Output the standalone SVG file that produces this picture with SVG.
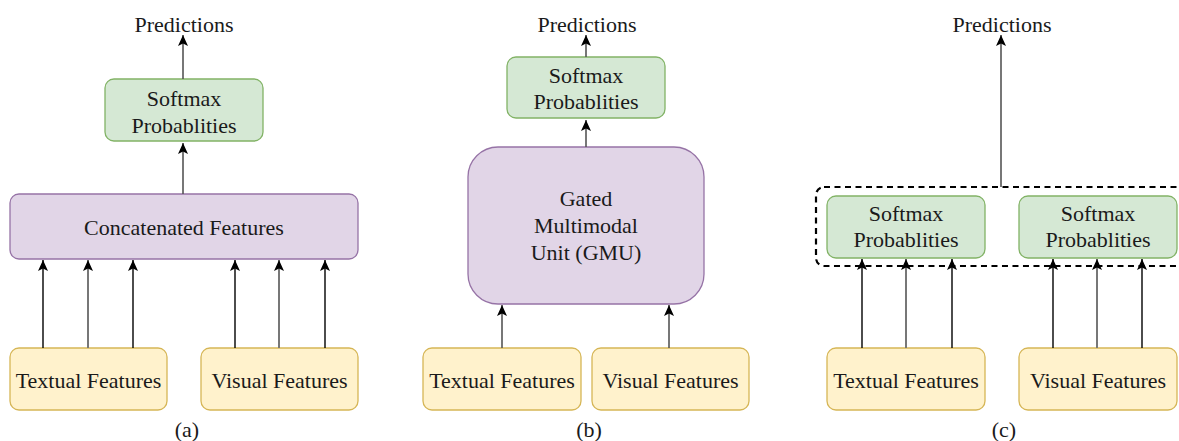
<svg xmlns="http://www.w3.org/2000/svg" width="1179" height="441" viewBox="0 0 1179 441">
<defs>
<marker id="ah" markerUnits="userSpaceOnUse" markerWidth="12" markerHeight="12" viewBox="0 0 12 12" refX="11" refY="6" orient="auto">
<path d="M0,1 L11,6 L0,11 L2.5,6 z" fill="#000"/>
</marker>
<style>
text{font-family:'Liberation Serif','Times New Roman','DejaVu Serif',serif;font-size:22px;fill:#1a1a1a;text-anchor:middle}
.g{fill:#d5e8d4;stroke:#82b366;stroke-width:1.3}
.p{fill:#e1d5e7;stroke:#9673a6;stroke-width:1.3}
.y{fill:#fff2cc;stroke:#d6b656;stroke-width:1.3}
.k{stroke:#000;stroke-width:1.4;fill:none;marker-end:url(#ah)}
.m{stroke:#777;stroke-width:2;fill:none;marker-end:url(#ah)}
.d{stroke:#555;stroke-width:1.6;fill:none;marker-end:url(#ah)}
.dash{fill:none;stroke:#000;stroke-width:2.2;stroke-dasharray:6 4.5}
</style>
</defs>

<g font-family="Liberation Serif, serif">
<!-- Panel (a) -->
<g id="a-pred"><text x="184" y="32">Predictions</text></g>
<g id="a-softmax"><rect class="g" x="105" y="79" width="158" height="62" rx="9"/><text x="184" y="106">Softmax</text><text x="184" y="133">Probablities</text></g>
<g id="a-concat"><rect class="p" x="10" y="194" width="348" height="65" rx="9"/><text x="184" y="235">Concatenated Features</text></g>
<g id="a-text"><rect class="y" x="10" y="348" width="157" height="62" rx="9"/><text x="88.5" y="388">Textual Features</text></g>
<g id="a-vis"><rect class="y" x="201" y="348" width="157" height="62" rx="9"/><text x="279.5" y="388">Visual Features</text></g>
<g id="a-label"><text x="187" y="437">(a)</text></g>

<!-- Panel (b) -->
<g id="b-pred"><text x="587" y="32">Predictions</text></g>
<g id="b-softmax"><rect class="g" x="507" y="57" width="158" height="61" rx="9"/><text x="586" y="83">Softmax</text><text x="586" y="109">Probablities</text></g>
<g id="b-gmu"><rect class="p" x="468" y="147" width="236" height="157" rx="30"/><text x="586" y="206">Gated</text><text x="586" y="233">Multimodal</text><text x="586" y="260">Unit (GMU)</text></g>
<g id="b-text"><rect class="y" x="423" y="348" width="158" height="62" rx="9"/><text x="502" y="388">Textual Features</text></g>
<g id="b-vis"><rect class="y" x="592" y="348" width="157" height="62" rx="9"/><text x="670.5" y="388">Visual Features</text></g>
<g id="b-label"><text x="589" y="437">(b)</text></g>

<!-- Panel (c) -->
<g id="c-pred"><text x="1002" y="32">Predictions</text></g>
<g id="c-group"><rect class="dash" x="816" y="187" width="400" height="79" rx="8"/></g>
<g id="c-softmax1"><rect class="g" x="827" y="196" width="158" height="62" rx="9"/><text x="906" y="221">Softmax</text><text x="906" y="247">Probablities</text></g>
<g id="c-softmax2"><rect class="g" x="1019" y="196" width="158" height="62" rx="9"/><text x="1098" y="221">Softmax</text><text x="1098" y="247">Probablities</text></g>
<g id="c-text"><rect class="y" x="827" y="348" width="158" height="62" rx="9"/><text x="906" y="388">Textual Features</text></g>
<g id="c-vis"><rect class="y" x="1019" y="348" width="158" height="62" rx="9"/><text x="1098" y="388">Visual Features</text></g>
<g id="c-label"><text x="1004" y="437">(c)</text></g>
</g>

<g id="connectors">
<!-- (a) -->
<line class="d" x1="183" y1="79" x2="183" y2="35"/>
<line class="d" x1="183" y1="194" x2="183" y2="143"/>
<line class="k" x1="43" y1="348" x2="43" y2="260"/>
<line class="m" x1="88" y1="348" x2="88" y2="260"/>
<line class="k" x1="133" y1="348" x2="133" y2="260"/>
<line class="k" x1="235" y1="348" x2="235" y2="260"/>
<line class="m" x1="279" y1="348" x2="279" y2="260"/>
<line class="k" x1="325" y1="348" x2="325" y2="260"/>
<!-- (b) -->
<line class="d" x1="586" y1="57" x2="586" y2="35"/>
<line class="d" x1="586" y1="147" x2="586" y2="120"/>
<line class="d" x1="502" y1="348" x2="502" y2="305"/>
<line class="d" x1="669" y1="348" x2="669" y2="305"/>
<!-- (c) -->
<line class="d" x1="1001" y1="187" x2="1001" y2="35"/>
<line class="k" x1="862" y1="348" x2="862" y2="259"/>
<line class="m" x1="906" y1="348" x2="906" y2="259"/>
<line class="k" x1="952" y1="348" x2="952" y2="259"/>
<line class="k" x1="1053" y1="348" x2="1053" y2="259"/>
<line class="m" x1="1097" y1="348" x2="1097" y2="259"/>
<line class="k" x1="1142" y1="348" x2="1142" y2="259"/>
</g>
</svg>
